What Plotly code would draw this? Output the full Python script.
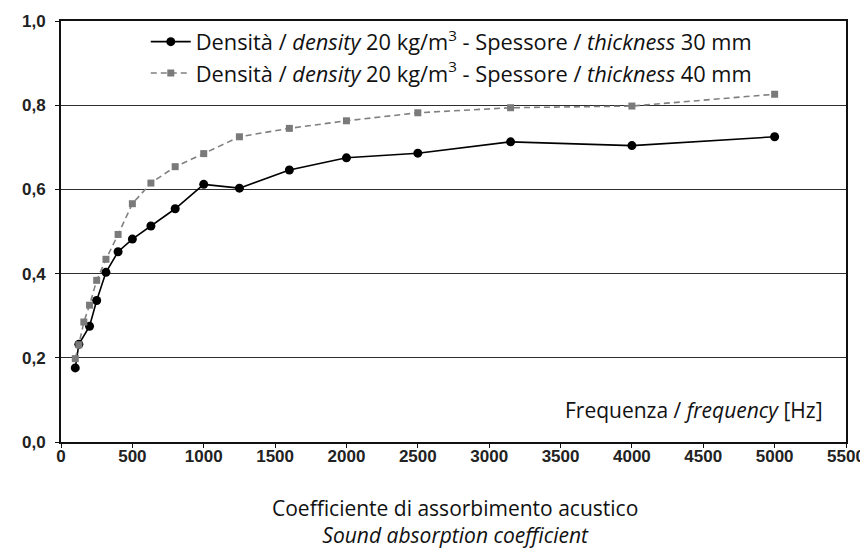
import plotly.graph_objects as go

# Data
freq_30 = [100, 125, 200, 250, 315, 400, 500, 630, 800, 1000, 1250, 1600, 2000, 2500, 3150, 4000, 5000]
alpha_30 = [0.176, 0.232, 0.275, 0.336, 0.403, 0.452, 0.482, 0.513, 0.554, 0.612, 0.603, 0.646, 0.675, 0.686, 0.713, 0.704, 0.725]

freq_40 = [100, 125, 160, 200, 250, 315, 400, 500, 630, 800, 1000, 1250, 1600, 2000, 2500, 3150, 4000, 5000]
alpha_40 = [0.198, 0.231, 0.285, 0.325, 0.384, 0.434, 0.493, 0.566, 0.615, 0.654, 0.685, 0.725, 0.745, 0.763, 0.782, 0.794, 0.798, 0.826]

name_30 = "Densità / <i>density</i> 20 kg/m<sup>3</sup> - Spessore / <i>thickness</i> 30 mm"
name_40 = "Densità / <i>density</i> 20 kg/m<sup>3</sup> - Spessore / <i>thickness</i> 40 mm"

x_ticks = [0, 500, 1000, 1500, 2000, 2500, 3000, 3500, 4000, 4500, 5000, 5500]
y_ticks = [0.0, 0.2, 0.4, 0.6, 0.8, 1.0]

fig = go.Figure()
fig.add_trace(go.Scatter(
    x=freq_30, y=alpha_30, mode="lines+markers", name=name_30,
    line=dict(color="#000000", width=1.6),
    marker=dict(symbol="circle", size=9, color="#000000"),
))
fig.add_trace(go.Scatter(
    x=freq_40, y=alpha_40, mode="lines+markers", name=name_40,
    line=dict(color="#808080", width=1.6, dash="6px,4px"),
    marker=dict(symbol="square", size=7, color="#7a7a7a"),
))

tick_font = dict(family="Liberation Sans Narrow, Arial Narrow, Liberation Sans, Arial", size=17, color="#222222", weight="bold")
text_font = "Open Sans, Lato, Noto Sans, sans-serif"

fig.update_layout(
    width=868, height=555,
    margin=dict(l=53, r=30, t=13, b=121, autoexpand=False),
    paper_bgcolor="white", plot_bgcolor="white",
    separators=",.",
    showlegend=True,
    legend=dict(
        x=0.108, y=1.0, xanchor="left", yanchor="top",
        bgcolor="rgba(0,0,0,0)", borderwidth=0,
        font=dict(family=text_font, size=21.8, color="#111111"),
        itemwidth=40, tracegroupgap=0,
    ),
    xaxis=dict(
        range=[0, 5500], tickvals=x_ticks, tickformat="d",
        showgrid=False, zeroline=False, automargin=False,
        showline=True, linecolor="#111111", linewidth=2, mirror=True,
        ticks="outside", ticklen=4, tickcolor="#111111", tickwidth=1,
        tickfont=tick_font, ticklabelstandoff=-6, ticklabeloverflow="allow",
    ),
    yaxis=dict(
        range=[0, 1.0], tickvals=y_ticks, tickformat=".1f",
        showgrid=True, gridcolor="#2e2e2e", gridwidth=1.2,
        zeroline=False, automargin=False,
        showline=True, linecolor="#111111", linewidth=2, mirror=True,
        ticks="outside", ticklen=4, tickcolor="#111111", tickwidth=1,
        tickfont=tick_font, ticklabelstandoff=6, ticklabeloverflow="allow",
    ),
    annotations=[
        dict(text="Frequenza / <i>frequency</i> [Hz]", xref="paper", yref="paper",
             x=0.973, y=0.076, xanchor="right", yanchor="middle", showarrow=False,
             font=dict(family=text_font, size=21, color="#111111")),
        dict(text="Coefficiente di assorbimento acustico<br><i>Sound absorption coefficient</i>",
             xref="paper", yref="paper",
             x=0.502, y=-0.188, xanchor="center", yanchor="middle", showarrow=False,
             align="center",
             font=dict(family=text_font, size=21, color="#111111")),
    ],
)

fig.write_html("out.html")
